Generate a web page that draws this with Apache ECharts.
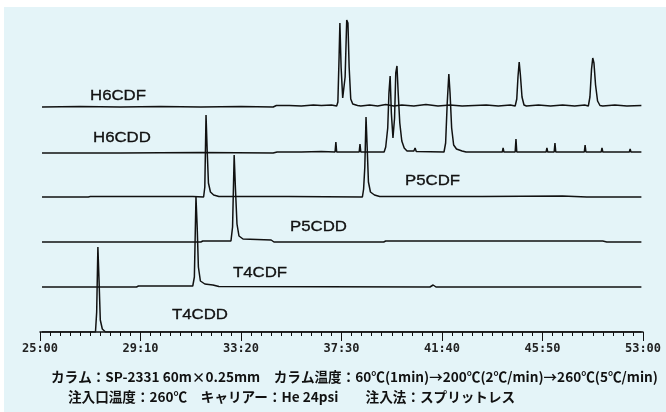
<!DOCTYPE html>
<html>
<head>
<meta charset="utf-8">
<script src="https://cdn.jsdelivr.net/npm/echarts/dist/echarts.min.js"></script>
<style>html,body{margin:0;padding:0;background:#fff}#c{width:666px;height:412px}</style>
</head>
<body>
<div id="c"></div>
<script>
// time axis in seconds (25:00 = 1500 s), tick labels as printed
const timeTicks = ['25:00','29:10','33:20','37:30','41:40','45:50','53:00'];
const traceNames = ['H6CDF','H6CDD','P5CDF','P5CDD','T4CDF','T4CDD'];
const traceOffsets = [225, 179, 135, 90, 45, 0];

// [time (s), signal]
const h6cdf = [
 [1505,0],[1600,0.5],[1700,0],[1800,0.5],[1900,0],[2000,0.5],[2080,0],[2088,1.5],[2120,1.5],[2150,1],[2180,2],[2200,1.5],[2225,2],[2238,1],
 [2241,5],[2244,50],[2246,84],[2249,40],[2253,9],[2256,7],[2259,30],[2263,87],[2266,84],[2269,40],[2273,8],[2278,3],[2290,1.5],[2298,1],
 [2320,2],[2340,1],[2360,2.5],[2380,1],[2400,2],[2430,1],[2460,2.5],[2490,1],[2520,2],[2550,1],[2580,1.5],[2610,2],[2640,1],[2670,2],
 [2682,1],[2686,8],[2689,30],[2692,45],[2695,32],[2699,10],[2704,2],[2710,1],
 [2740,2],[2770,1],[2800,2],[2830,1],[2855,2],[2864,1],[2868,10],[2872,38],[2875,49],[2878,44],[2882,22],[2887,6],[2893,1.5],[2900,1],[2930,2],[2960,1],[2996,1.5]
];
const h6cdd = [
 [1505,0],[1700,0],[1900,0.5],[2080,0],[2090,1],[2150,1],[2200,1.5],[2234,1],[2236,11],[2238,1],[2294,1],[2296,9],[2298,1],[2340,1],[2356,1],
 [2360,6],[2365,25],[2368,60],[2371,77],[2374,40],[2378,15],[2382,35],[2385,80],[2388,87],[2391,60],[2395,30],[2400,12],[2406,5],[2413,2],[2430,2],[2433,5],[2436,1.5],
 [2505,1],[2509,10],[2513,50],[2517,79],[2520,60],[2524,25],[2529,8],[2536,4],[2550,2],[2560,1],
 [2650,1],[2652,5],[2654,1],[2682,1],[2684,14],[2686,1],[2759,1],[2761,5],[2763,1],[2779,1],[2781,10],[2783,1],
 [2854,1],[2856,8],[2858,1],[2896,1],[2898,5],[2900,1],[2966,1],[2968,4],[2970,1],[2996,1]
];
const p5cdf = [
 [1505,0],[1620,0],[1625,0.5],[1880,0.5],[1907,0],[1910,10],[1913,82],[1916,45],[1919,14],[1924,5],[1932,2],[1945,0.5],
 [2110,0.5],[2114,2],[2118,0.5],[2302,0],[2305,8],[2308,30],[2311,80],[2314,48],[2317,15],[2322,5],[2332,2],[2345,0.5],
 [2600,0.5],[2800,1],[2860,0],[2996,0]
];
const p5cdd = [
 [1505,0],[1900,0],[1905,1],[1975,1],[1979,15],[1983,87],[1986,55],[1990,18],[1995,6],[2005,3],[2040,2.5],[2075,2],[2082,0],
 [2355,0],[2360,1],[2900,1],[2910,0],[2996,0]
];
const t4cdf = [
 [1505,0],[1740,0],[1745,1],[1880,1],[1884,10],[1888,90],[1891,60],[1894,20],[1899,6],[1910,3],[1930,2],[1945,0.5],
 [2470,0],[2478,2],[2485,0],[2996,0]
];
const t4cdd = [
 [1505,0],[1638,0],[1641,20],[1644,85],[1647,50],[1650,12],[1655,3],[1663,0],[2996,0]
];
const footerLines = [
 'カラム：SP-2331 60m×0.25mm　カラム温度：60℃(1min)→200℃(2℃/min)→260℃(5℃/min)',
 '注入口温度：260℃　キャリアー：He 24psi　　注入法：スプリットレス'
];

const traces = [h6cdf, h6cdd, p5cdf, p5cdd, t4cdf, t4cdd];
const labelPos = [[90,96],[93,138],[405,181],[290,227],[233,273],[172,315]];

const chart = echarts.init(document.getElementById('c'), null, {renderer:'canvas'});
const series = traces.map((d, i) => ({
  name: traceNames[i], type: 'line', showSymbol: false, animation: false, silent: true,
  lineStyle: {color: '#111', width: 1.5},
  data: d.map(p => [p[0], p[1] + traceOffsets[i]])
}));

const graphic = [
  {type:'rect', shape:{x:0,y:0,width:666,height:7}, style:{fill:'#fff'}},
  {type:'rect', shape:{x:0,y:0,width:4,height:412}, style:{fill:'#fff'}}
];
traceNames.forEach((n, i) => graphic.push({
  type:'text', x: labelPos[i][0], y: labelPos[i][1], scaleX: 1.2,
  style:{text:n, font:'14px "Liberation Sans"', fill:'#111', stroke:'#111', lineWidth:0.3, textAlign:'left', textVerticalAlign:'middle', align:'left', verticalAlign:'middle'}
}));
footerLines.forEach((t, i) => graphic.push({
  type:'text', x: i === 0 ? 51 : 68, y: i === 0 ? 377 : 397,
  style:{text:t, font:'bold 13.6px "Noto Sans CJK JP"', fill:'#111', textAlign:'left', textVerticalAlign:'middle', align:'left', verticalAlign:'middle'}
}));

chart.setOption({
  backgroundColor: '#e4f4f8',
  animation: false,
  grid: {left: 40, right: 23, top: 12, bottom: 80, containLabel: false},
  xAxis: {
    type: 'value', min: 1500, max: 3000, interval: 250,
    axisLine: {show: true, lineStyle: {color: '#111', width: 1.5}},
    axisTick: {show: true, length: 9, inside: false, lineStyle: {color: '#111', width: 1}},
    minorTick: {show: true, splitNumber: 10, length: 4, lineStyle: {color: '#111', width: 1}},
    splitLine: {show: false}, minorSplitLine: {show: false},
    axisLabel: {
      margin: 11, color: '#222', fontFamily: 'DejaVu Sans Mono', fontSize: 12, fontWeight: 'bold',
      showMaxLabel: true, showMinLabel: true,
      formatter: v => timeTicks[Math.round((v - 1500) / 250)] || ''
    }
  },
  yAxis: {type: 'value', min: 0, max: 320, show: false},
  series: series,
  graphic: graphic
});
</script>
</body>
</html>
